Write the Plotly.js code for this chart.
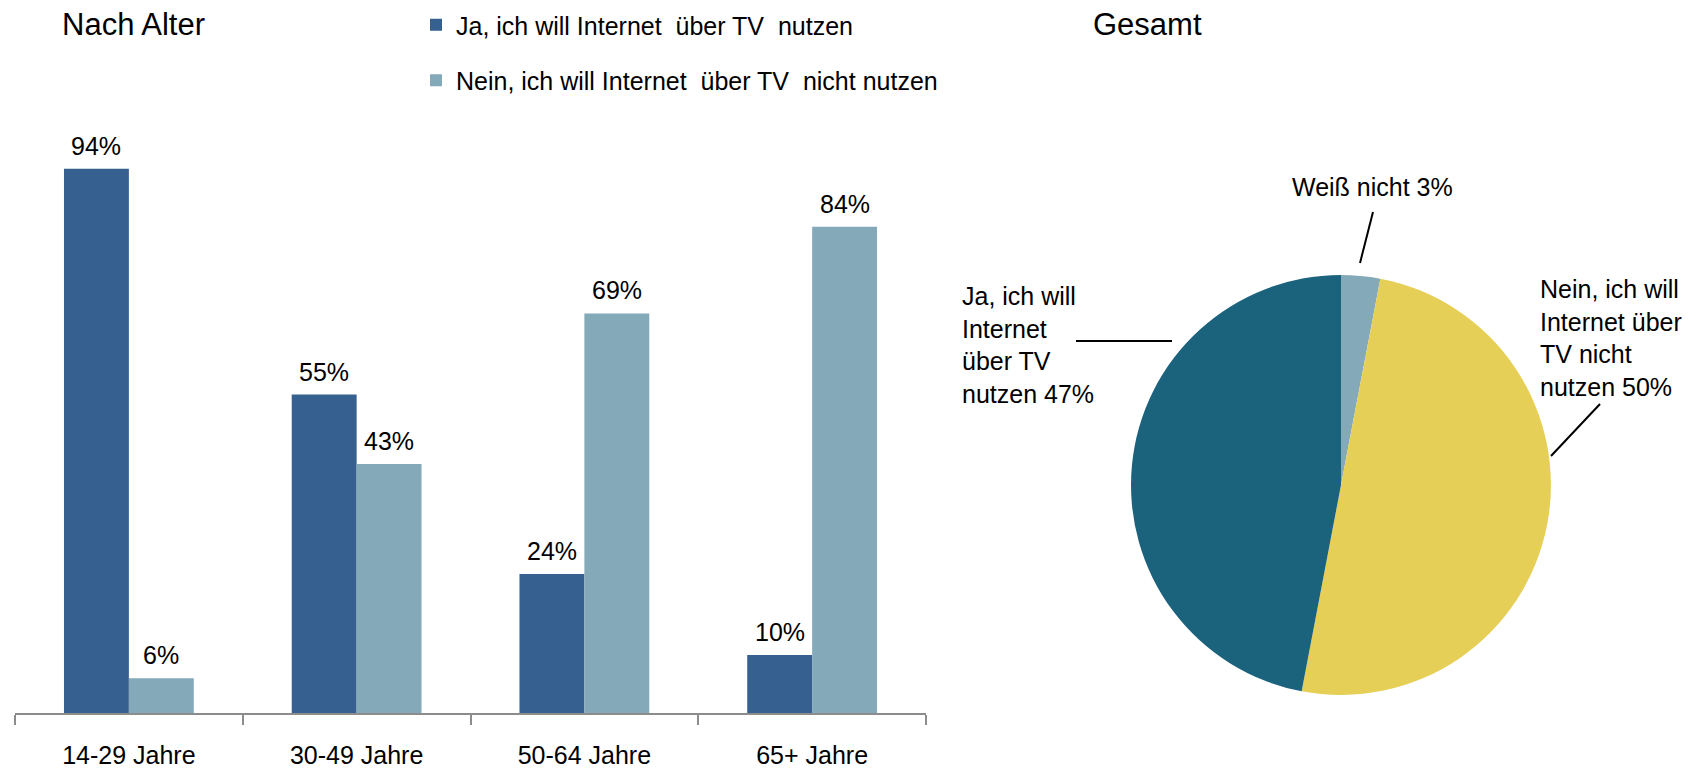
<!DOCTYPE html>
<html>
<head>
<meta charset="utf-8">
<script src="https://cdn.plot.ly/plotly-3.0.1.min.js"></script>
<style>
  html, body { margin: 0; padding: 0; background: #ffffff; }
  #chart { width: 1704px; height: 770px; }
</style>
</head>
<body>
<div id="chart"></div>
<script>
// ---- Data ----
const categories = ['14-29 Jahre', '30-49 Jahre', '50-64 Jahre', '65+ Jahre'];
const seriesNames = ['Ja, ich will Internet  über TV  nutzen', 'Nein, ich will Internet  über TV  nicht nutzen'];
const jaValues = [94, 55, 24, 10];
const neinValues = [6, 43, 69, 84];

const pieLabels = ['Weiß nicht', 'Nein, ich will Internet über TV nicht nutzen', 'Ja, ich will Internet über TV nutzen'];
const pieLabelsWrapped = ['Weiß nicht', 'Nein, ich will<br>Internet über<br>TV nicht<br>nutzen', 'Ja, ich will<br>Internet<br>über TV<br>nutzen'];
const pieValues = [3, 50, 47];

const titleLeft = 'Nach Alter';
const titleRight = 'Gesamt';

// ---- Styling ----
const FONT = 'Liberation Sans, Arial, Helvetica, sans-serif';
const W = 1704, H = 770;
const darkBlue = '#36608f';
const lightBlue = '#84a9b8';
const pieColors = ['#84a9b8', '#e6cf57', '#1b627d'];
const px = x => x / W;
const py = y => 1 - y / H;

const BARGAP = 0.43;
const xDomainPx = [15, 926];
const catWidthPx = (xDomainPx[1] - xDomainPx[0]) / categories.length;
const barWidthPx = catWidthPx * (1 - BARGAP) / 2;

const series = [
  { name: seriesNames[0], values: jaValues, color: darkBlue, side: -1 },
  { name: seriesNames[1], values: neinValues, color: lightBlue, side: 1 }
];

const barTraces = series.map((s, i) => ({
  type: 'bar',
  name: s.name,
  legendgroup: 'g' + i,
  x: categories,
  y: s.values,
  marker: { color: s.color, line: { width: 0 } },
  cliponaxis: false,
  hoverinfo: 'x+y',
  xaxis: 'x', yaxis: 'y'
}));

const pieTrace = {
  type: 'pie',
  labels: pieLabels,
  values: pieValues,
  sort: false,
  direction: 'clockwise',
  rotation: 0,
  marker: { colors: pieColors, line: { width: 0 } },
  textinfo: 'none',
  showlegend: false,
  domain: { x: [px(1131), px(1551)], y: [py(695), py(275)] }
};

const pieLabelPos = [
  { x: 1372, y: 187, xanchor: 'center', align: 'center' },
  { x: 1538, y: 338, xanchor: 'left', align: 'left' },
  { x: 960, y: 345, xanchor: 'left', align: 'left' }
];

const annotations = [
  { text: titleLeft, x: px(60), y: py(24), xanchor: 'left', yanchor: 'middle' },
  { text: titleRight, x: px(1091), y: py(24), xanchor: 'left', yanchor: 'middle' }
].map(a => Object.assign(a, { xref: 'paper', yref: 'paper', showarrow: false,
  font: { family: FONT, size: 31, color: '#000000' } }));

// bar value labels, anchored to the data through the axes
series.forEach(s => {
  s.values.forEach((v, j) => {
    annotations.push({
      text: v + '%',
      xref: 'x', yref: 'y',
      x: categories[j], y: v,
      xshift: s.side * barWidthPx / 2,
      yshift: 7,
      xanchor: 'center', yanchor: 'bottom',
      showarrow: false,
      font: { family: FONT, size: 25, color: '#000000' }
    });
  });
});

pieLabelsWrapped.forEach((lbl, i) => {
  const p = pieLabelPos[i];
  annotations.push({
    text: lbl + ' ' + pieValues[i] + '%',
    xref: 'paper', yref: 'paper',
    x: px(p.x), y: py(p.y), xanchor: p.xanchor, yanchor: 'middle', align: p.align,
    showarrow: false,
    font: { family: FONT, size: 25, color: '#000000' }
  });
});

const leaderLines = [
  [1373, 212, 1360, 263],
  [1600, 404, 1551, 456],
  [1076, 341, 1172, 341]
];
const shapes = leaderLines.map(l => ({
  type: 'line', xref: 'paper', yref: 'paper',
  x0: px(l[0]), y0: py(l[1]), x1: px(l[2]), y1: py(l[3]),
  line: { color: '#000000', width: 2 }
}));

const layout = {
  width: W, height: H,
  margin: { l: 0, r: 0, t: 0, b: 0 },
  paper_bgcolor: '#ffffff', plot_bgcolor: '#ffffff',
  font: { family: FONT, size: 25, color: '#000000' },
  barmode: 'group',
  bargap: BARGAP,
  bargroupgap: 0,
  xaxis: {
    domain: [px(xDomainPx[0]), px(xDomainPx[1])],
    type: 'category',
    range: [-0.5, 3.5],
    showline: true, linecolor: '#8c8c8c', linewidth: 2,
    ticks: 'outside', tickson: 'boundaries', ticklen: 10, tickwidth: 2, tickcolor: '#8c8c8c',
    ticklabelstandoff: 19,
    tickfont: { family: FONT, size: 25, color: '#000000' },
    showgrid: false, zeroline: false, fixedrange: true
  },
  yaxis: {
    domain: [py(713), py(134)],
    range: [0, 100],
    visible: false, showgrid: false, zeroline: false, fixedrange: true
  },
  legend: {
    x: px(416), y: py(2), xanchor: 'left', yanchor: 'top',
    orientation: 'v',
    traceorder: 'grouped',
    tracegroupgap: 20,
    font: { family: FONT, size: 25, color: '#000000' },
    bgcolor: 'rgba(0,0,0,0)'
  },
  annotations: annotations,
  shapes: shapes,
  showlegend: true
};

Plotly.newPlot('chart', barTraces.concat([pieTrace]), layout, { displayModeBar: false, staticPlot: true });
</script>
</body>
</html>
